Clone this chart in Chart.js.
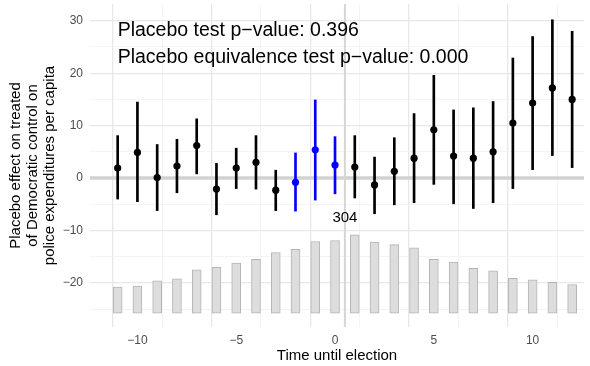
<!DOCTYPE html>
<html>
<head>
<meta charset="utf-8">
<script src="https://cdn.jsdelivr.net/npm/chart.js@4"></script>
<style>
  body { margin: 0; background: #fff; }
  #wrap { width: 590px; height: 366px; }
</style>
</head>
<body>
<div id="wrap"><canvas id="placeboChart"></canvas></div>
<script>
// time until election (years), one estimate per lag
const lags = [-11, -10, -9, -8, -7, -6, -5, -4, -3, -2, -1, 0, 1, 2, 3, 4, 5, 6, 7, 8, 9, 10, 11, 12];
const estimates = [1.9, 4.9, 0.1, 2.3, 6.2, -2.1, 1.9, 3.0, -2.3, -0.8, 5.4, 2.5, 2.1, -1.3, 1.3, 3.8, 9.2, 4.2, 3.8, 5.0, 10.5, 14.3, 17.2, 15.0];
const ciLow = [-4.0, -4.5, -6.2, -2.8, 0.8, -7.0, -2.0, -2.1, -6.2, -6.3, -4.2, -3.0, -3.8, -6.8, -5.1, -4.7, -1.2, -4.9, -5.8, -4.7, -2.0, 1.6, 4.3, 2.0];
const ciHigh = [8.1, 14.5, 6.4, 7.4, 11.3, 2.8, 5.7, 8.1, 1.5, 4.8, 14.9, 7.9, 8.1, 4.0, 7.7, 12.3, 19.6, 13.0, 13.4, 14.6, 22.9, 27.0, 30.2, 28.0];
// lags used in the placebo window (drawn blue)
const placeboLags = [-2, -1, 0];
// observation count histogram, drawn along the bottom (top of each bar in axis units)
const countBase = -25.75;
const countTops = [-20.8, -20.6, -19.6, -19.2, -17.5, -17.0, -16.2, -15.5, -14.2, -13.6, -12.1, -11.9, -10.8, -12.2, -12.7, -13.3, -15.5, -16.0, -17.2, -17.7, -19.1, -19.4, -19.9, -20.3];
const maxCountLabel = '304';

const xTicks = [-10, -7.5, -5, -2.5, 0, 2.5, 5, 7.5, 10, 12.5];
const yTicks = [-25, -20, -15, -10, -5, 0, 5, 10, 15, 20, 25, 30];

const annotations = [
    { text: 'Placebo test p\u2212value: 0.396', x: -11, y: 27.1 },
    { text: 'Placebo equivalence test p\u2212value: 0.000', x: -11, y: 21.9 }
];

const FONT = "'Liberation Sans', Arial, Helvetica, sans-serif";
const pointColor = lags.map(l => placeboLags.includes(l) ? '#0000ff' : '#000000');

const isMajor = (v, step) => Math.abs(v / step - Math.round(v / step)) < 1e-9;
const fmt = v => v < 0 ? '\u2212' + Math.abs(v) : String(v);
const gridColor = step => c => (c.tick && isMajor(c.tick.value, step)) ? '#e8e8e8' : '#f1f1f1';
const gridWidth = step => c => (c.tick && isMajor(c.tick.value, step)) ? 1.3 : 0.8;

const refLines = {
    id: 'refLines',
    beforeDatasetsDraw(chart) {
        const { ctx, chartArea, scales: { x, y } } = chart;
        ctx.save();
        ctx.strokeStyle = '#d2d2d2';
        ctx.lineWidth = 3.5;
        ctx.beginPath();
        ctx.moveTo(chartArea.left, y.getPixelForValue(0));
        ctx.lineTo(chartArea.right, y.getPixelForValue(0));
        ctx.stroke();
        ctx.lineWidth = 2;
        ctx.strokeStyle = '#d6d6d6';
        ctx.beginPath();
        ctx.moveTo(x.getPixelForValue(0.5), chartArea.top);
        ctx.lineTo(x.getPixelForValue(0.5), chartArea.bottom);
        ctx.stroke();
        ctx.restore();
    },
    afterDatasetsDraw(chart) {
        const { ctx, scales: { x, y } } = chart;
        ctx.save();
        ctx.fillStyle = '#000';
        ctx.textBaseline = 'alphabetic';
        ctx.textAlign = 'left';
        ctx.font = '19.5px ' + FONT;
        annotations.forEach(a => {
            ctx.fillText(a.text, x.getPixelForValue(a.x), y.getPixelForValue(a.y));
        });
        ctx.textAlign = 'center';
        ctx.font = '15px ' + FONT;
        ctx.fillText(maxCountLabel, x.getPixelForValue(0.5), y.getPixelForValue(-8.3));
        ctx.restore();
    }
};

new Chart(document.getElementById('placeboChart'), {
    type: 'bar',
    data: {
        datasets: [{
            type: 'scatter',
            data: lags.map((l, i) => ({ x: l, y: estimates[i] })),
            backgroundColor: pointColor,
            borderColor: pointColor,
            pointRadius: 3.6,
            borderWidth: 0,
            order: 0
        }, {
            data: lags.map((l, i) => ({ x: l, y: [ciLow[i], ciHigh[i]] })),
            backgroundColor: pointColor,
            borderWidth: 0,
            barThickness: 2,
            grouped: false,
            order: 1
        }, {
            data: lags.map((l, i) => ({ x: l, y: [countBase, countTops[i]] })),
            backgroundColor: '#dddddd',
            borderColor: '#b4b4b4',
            borderWidth: 1,
            borderSkipped: false,
            barThickness: 9,
            grouped: false,
            order: 2
        }]
    },
    options: {
        responsive: true,
        maintainAspectRatio: false,
        animation: false,
        layout: { padding: { top: 0, right: 6, left: 0, bottom: 0 } },
        plugins: {
            legend: { display: false },
            tooltip: { enabled: false }
        },
        scales: {
            x: {
                type: 'linear',
                offset: false,
                min: -12.4,
                max: 12.6,
                afterBuildTicks: s => { s.ticks = xTicks.map(v => ({ value: v })); },
                afterFit: s => { s.height = 39; s.paddingLeft = 0; s.paddingRight = 0; },
                border: { display: false },
                grid: {
                    drawTicks: false,
                    color: gridColor(5),
                    lineWidth: gridWidth(5)
                },
                ticks: {
                    padding: 6,
                    color: '#4d4d4d',
                    font: { family: FONT, size: 12 },
                    maxRotation: 0,
                    autoSkip: false,
                    callback: v => isMajor(v, 5) ? fmt(v) : ''
                },
                title: {
                    display: true,
                    text: 'Time until election',
                    color: '#000',
                    font: { family: FONT, size: 15 },
                    padding: { top: 0, bottom: 1 }
                }
            },
            y: {
                min: -28.4,
                max: 33.2,
                afterBuildTicks: s => { s.ticks = yTicks.map(v => ({ value: v })); },
                afterFit: s => { s.width = 90; s.paddingTop = 0; s.paddingBottom = 0; },
                border: { display: false },
                grid: {
                    drawTicks: false,
                    color: gridColor(10),
                    lineWidth: gridWidth(10)
                },
                ticks: {
                    padding: 7,
                    color: '#4d4d4d',
                    font: { family: FONT, size: 12 },
                    autoSkip: false,
                    callback: v => isMajor(v, 10) ? fmt(v) : ''
                },
                title: {
                    display: true,
                    text: ['Placebo effect on treated', 'of Democratic control on', 'police expenditures per capita'],
                    color: '#000',
                    font: { family: FONT, size: 15, lineHeight: 1.13 },
                    padding: { top: 7, bottom: 0 }
                }
            }
        }
    },
    plugins: [refLines]
});
</script>
</body>
</html>
